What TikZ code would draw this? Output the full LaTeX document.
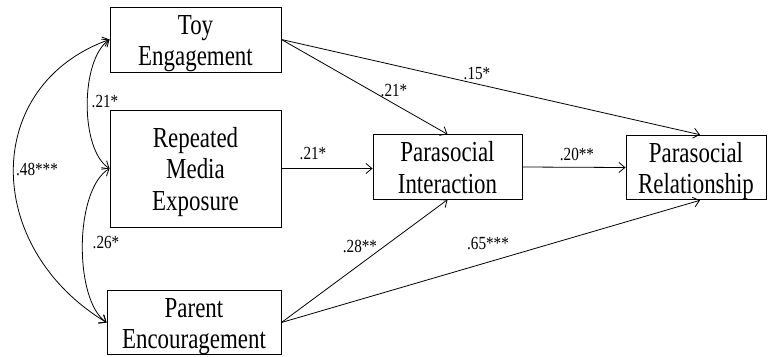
\documentclass[tikz,border=0pt]{standalone}
\usepackage{fontspec}
\setmainfont{Liberation Serif}
\newfontfamily\boxfont{Liberation Serif}[FakeStretch=0.79]
\newfontfamily\coeffont{Liberation Serif}[FakeStretch=0.82]
\usetikzlibrary{arrows.meta}

% invisible struts that set the height of the first line and the depth of the last
\newcommand{\firstln}{\rule{0pt}{27pt}}
\newcommand{\lastln}{\rule[-6pt]{0pt}{6pt}}

\tikzset{
  varbox/.style={draw, line width=0.9pt, align=center, inner sep=0pt,
    font=\boxfont\fontsize{29}{31.5}\selectfont},
  path/.style={line width=0.8pt, -{Straight Barb[length=6pt,width=10pt,line width=0.8pt]}},
  cov/.style={line width=0.8pt, {Straight Barb[length=6pt,width=10pt,line width=0.8pt]}-{Straight Barb[length=6pt,width=10pt,line width=0.8pt]}},
  coef/.style={inner sep=0pt, font=\coeffont\fontsize{18.5}{20}\selectfont}
}

\begin{document}
\begin{tikzpicture}[x=1pt, y=-1pt]
  \useasboundingbox (0,0) rectangle (768,356);

  % predictor variables
  \node[varbox, minimum width=171pt, minimum height=65pt]  (toy)    at (195.5,39.5) {\firstln Toy\\Engagement\lastln};
  \node[varbox, minimum width=171pt, minimum height=117pt] (media)  at (195.5,168.5) {\firstln Repeated\\Media\\Exposure\lastln};
  \node[varbox, minimum width=174pt, minimum height=63pt]  (parent) at (194,322.5) {\firstln Parent\\Encouragement\lastln};

  % mediator and outcome
  \node[varbox, minimum width=149pt, minimum height=62pt]  (psi) at (447.5,167) {\firstln Parasocial\\Interaction\lastln};
  \node[varbox, minimum width=140pt, minimum height=63pt]  (psr) at (696,167.5) {\firstln Parasocial\\Relationship\lastln};

  % directed paths
  \draw[path] (toy.east) -- (psi.north);
  \draw[path] (toy.east) -- ([xshift=4pt]psr.north);
  \draw[path] (media.east) -- (media.east -| psi.west);
  \draw[path] (psi.east) -- (psr.west);
  \draw[path] (parent.east) -- (psi.south);
  \draw[path] (parent.east) -- ([xshift=4pt]psr.south);

  % correlations among predictors
  \draw[cov] (toy.west) .. controls (80,60) and (80,150) .. (media.west);
  \draw[cov] (media.west) .. controls (74,190) and (74,300) .. (parent.west);
  \draw[cov] (toy.west) .. controls (-18,85) and (-18,247) .. (parent.west);

  % path coefficients
  \node[coef] (c1) at (394,91)  {.21*};
  \node[coef] (c2) at (477,74)  {.15*};
  \node[coef] (c3) at (313,154) {.21*};
  \node[coef] (c4) at (577,154) {.20**};
  \node[coef] (c5) at (360,246) {.28**};
  \node[coef] (c6) at (488,244) {.65***};
  \node[coef] (c7) at (105,102) {.21*};
  \node[coef] (c8) at (106,243) {.26*};
  \node[coef] (c9) at (37,169)  {.48***};
\end{tikzpicture}
\end{document}
